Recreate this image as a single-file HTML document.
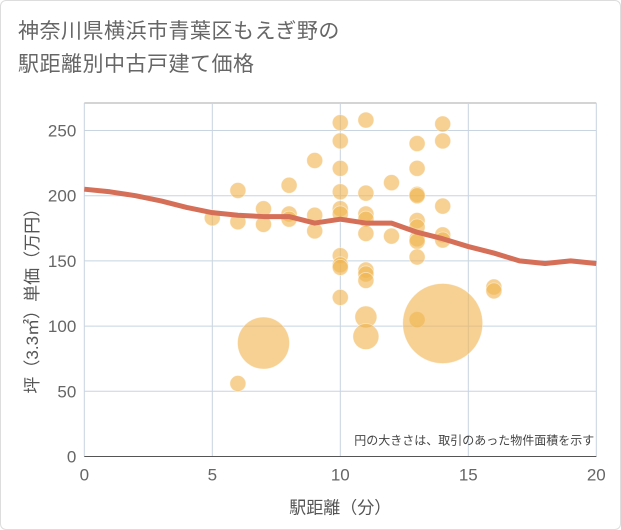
<!DOCTYPE html>
<html><head><meta charset="utf-8">
<style>
html,body{margin:0;padding:0;background:#fff;}
body{width:621px;height:530px;overflow:hidden;font-family:"Liberation Sans","Noto Sans CJK JP",sans-serif;}
#frame{position:absolute;left:0;top:0;width:619px;height:528px;border:1px solid #ddd;border-radius:6px;}
#title{position:absolute;left:18px;top:15px;font-size:21px;line-height:33px;color:#666;letter-spacing:0.5px;}
</style></head><body>
<div id="frame"></div>
<div id="title">神奈川県横浜市青葉区もえぎ野の<br>駅距離別中古戸建て価格</div>
<svg id="chart" width="621" height="530" style="position:absolute;left:0;top:0"></svg>
<script>
const xTicks=[0,5,10,15,20];
const yTicks=[0,50,100,150,200,250];
const lineX=[0,1,2,3,4,5,6,7,8,9,10,11,12,13,14,15,16,17,18,19,20];
const lineY=[205,203,200,196,191,187,185,184,184,179,182,179,179,172,167,161,156,150,148,150,148];
const ptX=[5,6,6,6,7,7,7,8,8,8,9,9,9,10,10,10,10,10,10,10,10,10,10,11,11,11,11,11,11,11,11,11,11,12,12,13,13,13,13,13,13,13,13,13,13,14,14,14,14,14,14,16,16];
const ptY=[183,204,180,56,190,178,87,208,186,182,227,185,173,256,242,221,203,190,186,154,147,145,122,258,202,186,182,171,143,140,135,107,92,210,169,240,221,201,200,181,176,167,165,153,105,255,242,192,170,166,102,130,127];
const ptR=[8,8,8,8,8,8,26,8,8,8,8,8,8,8,8,8,8,8,8,8,8,8,8,8,8,8,8,8,8,8,8,11,13,8,8,8,8,8,8,8,8,8,8,8,8,8,8,8,8,8,40,8,8];
const L=84.3,R=596.3,T=103,B=456.5;
const xs=v=>L+(v-0)/20*(R-L);
const ys=v=>B-v*1.304;
const svg=document.getElementById('chart');
const NS='http://www.w3.org/2000/svg';
function mk(t,a){const e=document.createElementNS(NS,t);for(const k in a)e.setAttribute(k,a[k]);svg.appendChild(e);return e;}
const bg=mk('rect',{x:L,y:T,width:R-L,height:B-T,fill:'#fff'});


const tb=mk('line',{x1:L,x2:R,y1:T,y2:T,stroke:'#aaa','stroke-width':1});


for(const t of xTicks){
 const g=mk('line',{x1:xs(t),x2:xs(t),y1:T,y2:B,stroke:'#c8d4e0','stroke-width':1});
 
 
 const tx=mk('text',{x:xs(t),y:B+24,'text-anchor':'middle','font-size':17,fill:'#666'});
 tx.textContent=t;
 
 
}
for(const t of yTicks){
 const g=mk('line',{x1:L,x2:R,y1:ys(t),y2:ys(t),stroke:'#c8d4e0','stroke-width':1});
 
 
 const tx=mk('text',{x:L-8,y:ys(t)+6,'text-anchor':'end','font-size':17,fill:'#666'});
 tx.textContent=t;
 
 
}
const ax=mk('line',{x1:L,x2:R,y1:B,y2:B,stroke:'#555','stroke-width':1});


for(let i=0;i<ptX.length;i++){
 const c=mk('circle',{cx:xs(ptX[i]),cy:ys(ptY[i]),r:ptR[i],fill:'#f0b550','fill-opacity':0.62,stroke:'#fff','stroke-opacity':0.5,'stroke-width':0.8});
 
 
}
const p=mk('polyline',{points:lineX.map((x,i)=>xs(x)+','+ys(lineY[i])).join(' '),fill:'none',stroke:'#d66f58','stroke-width':5,'stroke-linejoin':'round'});


const note=mk('text',{x:R-2,y:B-12,'text-anchor':'end','font-size':12,fill:'#444'});
note.textContent='円の大きさは、取引のあった物件面積を示す';


const xt=mk('text',{x:(L+R)/2,y:B+57,'text-anchor':'middle','font-size':17,fill:'#555'});
xt.textContent='駅距離（分）';


const yt=mk('text',{x:0,y:0,'text-anchor':'middle','font-size':17,fill:'#555',transform:'translate(38,'+((117+B)/2+10)+') rotate(-90)'});
yt.textContent='坪（3.3㎡）単価（万円）';


</script>
</body></html>
